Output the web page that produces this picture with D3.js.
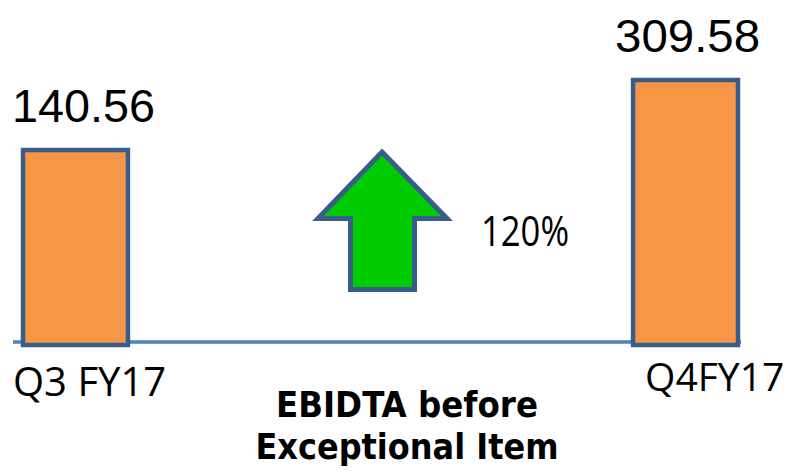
<!DOCTYPE html>
<html>
<head>
<meta charset="utf-8">
<script src="https://cdn.jsdelivr.net/npm/d3@7"></script>
<style>
  body { margin: 0; background: #fff; }
  svg { display: block; }
</style>
</head>
<body>
<svg id="chart"></svg>
<script>
// data
const periods = ["Q3 FY17", "Q4FY17"];
const ebidta = [140.56, 309.58];
const valueLabels = ["140.56", "309.58"];
const growthLabel = "120%";
const titleLines = ["EBIDTA before", "Exceptional Item"];

const width = 790;
const height = 475;

const svg = d3.select("#chart")
  .attr("width", width)
  .attr("height", height);

const x = d3.scaleBand()
  .domain(periods)
  .range([23, 738])
  .paddingInner(0.828)
  .paddingOuter(0);

// the slide does not start its bars at zero
const y = d3.scaleLinear()
  .domain([-330, 309.58])
  .range([345, 80]);

const rows = periods.map((p, i) => ({ period: p, value: ebidta[i], label: valueLabels[i] }));

// baseline
svg.append("line")
  .attr("x1", 13)
  .attr("x2", 741)
  .attr("y1", 342)
  .attr("y2", 342)
  .attr("stroke", "#4F81BD")
  .attr("stroke-width", 3.5);

svg.selectAll("rect.bar")
  .data(rows)
  .join("rect")
  .attr("class", "bar")
  .attr("x", d => x(d.period))
  .attr("y", d => y(d.value))
  .attr("width", x.bandwidth())
  .attr("height", d => y.range()[0] - y(d.value))
  .attr("fill", "#F79646")
  .attr("stroke", "#385D8A")
  .attr("stroke-width", 4.5);

// value labels above bars
const valueDx = [-11, -18];
svg.selectAll("text.value")
  .data(rows)
  .join("text")
  .attr("class", "value")
  .attr("x", (d, i) => x(d.period) + valueDx[i])
  .attr("y", d => y(d.value) - 28)
  .attr("font-family", "'Liberation Sans', Arial, sans-serif")
  .attr("font-size", 47)
  .attr("textLength", (d, i) => [143, 145][i])
  .attr("lengthAdjust", "spacingAndGlyphs")
  .attr("fill", "#000")
  .text(d => d.label);

// category labels under the baseline
const catDx = [-10, 12];
const catBase = [396, 391];
const catSize = [40, 39];
svg.selectAll("text.cat")
  .data(rows)
  .join("text")
  .attr("class", "cat")
  .attr("x", (d, i) => x(d.period) + catDx[i])
  .attr("y", (d, i) => catBase[i])
  .attr("font-family", "'Open Sans', sans-serif")
  .attr("font-size", (d, i) => catSize[i])
  .attr("fill", "#000")
  .text(d => d.period);

// growth arrow
const ax = 382, arrowTop = 152, wing = 218.5, arrowBottom = 289.5;
const arrow = d3.path();
arrow.moveTo(ax, arrowTop);
arrow.lineTo(ax + 65, wing);
arrow.lineTo(ax + 32.5, wing);
arrow.lineTo(ax + 32.5, arrowBottom);
arrow.lineTo(ax - 31.5, arrowBottom);
arrow.lineTo(ax - 31.5, wing);
arrow.lineTo(ax - 64, wing);
arrow.closePath();

svg.append("path")
  .attr("d", arrow.toString())
  .attr("fill", "#00CC00")
  .attr("stroke", "#385D8A")
  .attr("stroke-width", 5)
  .attr("stroke-linejoin", "miter");

svg.append("text")
  .attr("x", 481)
  .attr("y", 246)
  .attr("font-family", "'Open Sans', sans-serif")
  .attr("font-size", 42)
  .attr("textLength", 88)
  .attr("lengthAdjust", "spacingAndGlyphs")
  .attr("fill", "#000")
  .text(growthLabel);

// title
const titleLen = [262, 303];
svg.selectAll("text.title")
  .data(titleLines)
  .join("text")
  .attr("class", "title")
  .attr("x", 407)
  .attr("y", (d, i) => 417 + i * 42)
  .attr("text-anchor", "middle")
  .attr("font-family", "'DejaVu Sans Condensed', 'DejaVu Sans', sans-serif")
  .attr("font-weight", "bold")
  .attr("font-size", 35)
  .attr("textLength", (d, i) => titleLen[i])
  .attr("lengthAdjust", "spacingAndGlyphs")
  .attr("fill", "#000")
  .text(d => d);
</script>
</body>
</html>
